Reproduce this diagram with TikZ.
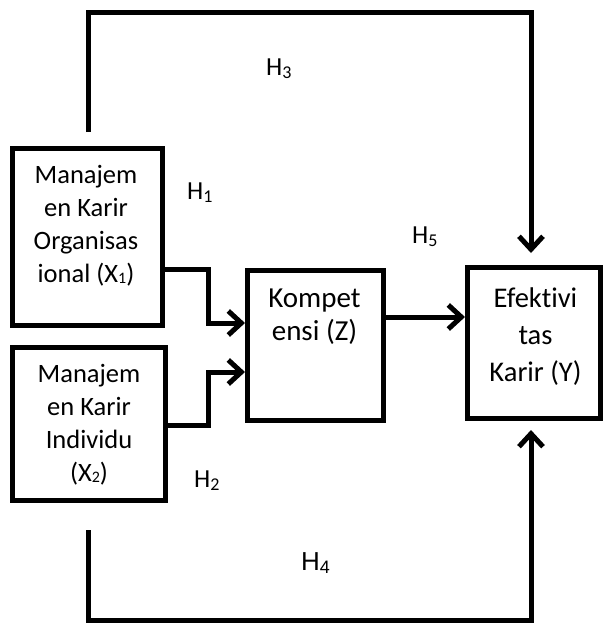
\documentclass[tikz,border=0pt]{standalone}
\usepackage{fontspec}
\setmainfont{Carlito}[Ligatures=NoCommon]
\newfontfamily\arialfont{Liberation Sans}
\usetikzlibrary{arrows.meta}
% lowered small digits for indices
\newcommand\hsub[1]{\raisebox{-3pt}{\fontsize{18}{18}\selectfont #1}}
\newcommand\xsub[1]{\raisebox{-1pt}{\fontsize{16}{16}\selectfont #1}}
\begin{document}
\begin{tikzpicture}[x=1pt,y=-1pt,
  box/.style={draw, line width=5pt, inner sep=0pt},
  txt/.style={font=\fontsize{26.5}{33}\selectfont, align=center, inner sep=0pt},
  hyp/.style={font=\fontsize{26}{30}\selectfont, inner sep=0pt, anchor=base west},
  link/.style={line width=5pt, -{Straight Barb[length=13pt,width=24pt]}}]
\useasboundingbox (0,0) rectangle (605,625);

% variable boxes
\node[box, minimum width=150pt, minimum height=177pt] (org) at (87.5,237) {};
\node[box, minimum width=153pt, minimum height=153pt] (ind) at (89,424) {};
\node[box, minimum width=136pt, minimum height=150pt] (komp) at (315.5,345.5) {};
\node[box, minimum width=133pt, minimum height=151pt] (efek) at (534,343) {};

% box texts
\node[txt] (orgt) at (86,226) {Manajem\\en Karir\\Organisas\\ional (X\xsub{1})};
\node[txt] (indt) at (89,425) {Manajem\\en Karir\\Individu\\(X\xsub{2})};
\node[txt, font=\fontsize{29}{33}\selectfont] (kompt) at (314.5,317) {Kompet\\ensi (Z)};
\node[txt, font=\fontsize{28.5}{37}\selectfont] (efekt) at (535.5,337) {Efektivi\\tas\\Karir (Y)};

% hypothesis labels
\node[hyp] (h1) at (187,199) {H\hsub{1}};
\node[hyp] (h2) at (194,487) {H\hsub{2}};
\node[hyp] (h3) at (266,75) {H\hsub{3}};
\node[hyp, font=\arialfont\fontsize{26}{30}\selectfont] (h4) at (301,570) {H\hsub{4}};
\node[hyp] (h5) at (412,243) {H\hsub{5}};

% connectors into the mediator
\draw[link] ([yshift=-32pt]org.east) -| (208,323) -- (komp.west |- 0,323);
\draw[link] ([yshift=-1pt]ind.east) -| (208,372) -- (komp.west |- 0,372);
\draw[link] (komp.east |- 0,317) -- (efek.west |- 0,317);

% direct paths around the diagram
\coordinate (h3s) at (88,132);
\coordinate (h4s) at (88,530);
\draw[link, shorten >=12pt] (h3s) |- (531,12) -- (531,0 |- efek.north);
\draw[link, shorten >=9pt] (h4s) |- (531,620) -- (531,0 |- efek.south);
\end{tikzpicture}
\end{document}
